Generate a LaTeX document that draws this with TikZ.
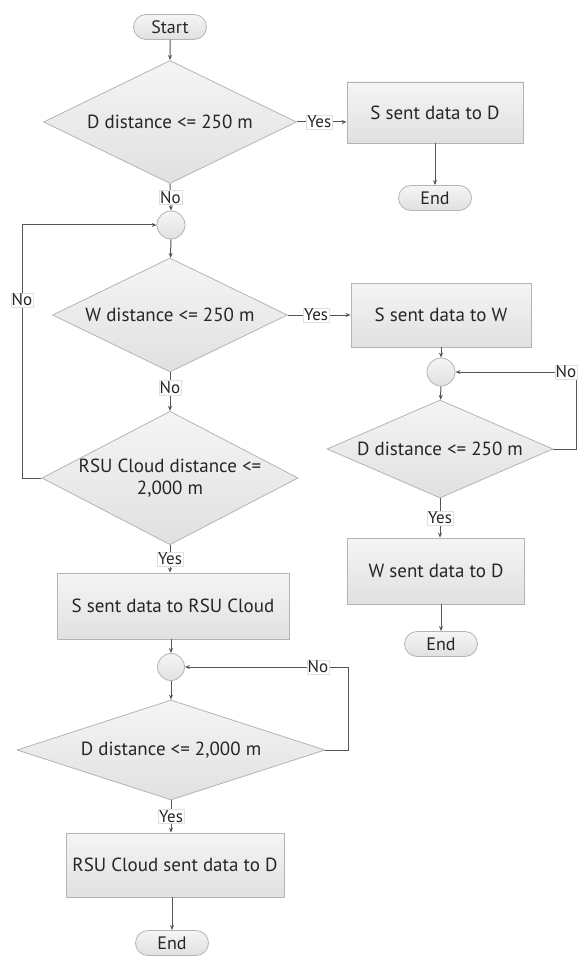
\documentclass[tikz,border=0pt]{standalone}
\usepackage{fontspec}
\setmainfont{PT Sans}
\usetikzlibrary{shapes.geometric,shapes.misc,arrows.meta}
\definecolor{edgecol}{HTML}{555555}
\definecolor{bordercol}{HTML}{B4B4B4}
\tikzset{
  base/.style={draw=bordercol, line width=0.8pt, top color=white!96!black, bottom color=white!88!black, font=\fontsize{19}{22}\selectfont, text=black!85},
  proc/.style={base, rectangle, inner sep=0pt},
  term/.style={base, rounded rectangle, inner sep=0pt, minimum width=73pt, minimum height=25pt, font=\fontsize{18}{21}\selectfont},
  dec/.style={base, diamond, inner sep=0pt, align=center},
  junc/.style={base, circle, inner sep=0pt},
  lbl/.style={fill=white, draw=black!12, line width=0.4pt, inner sep=1pt, font=\fontsize{17}{20}\selectfont, text=black!85},
  arr/.style={draw=edgecol, line width=1pt, -{Stealth[length=5pt,width=4pt]}},
}
\begin{document}
\begin{tikzpicture}[x=1pt,y=-1pt]
\useasboundingbox (0,0) rectangle (583,957);
% left column
\node[term] (start) at (170,27) {Start};
\node[dec, minimum width=253pt, minimum height=123pt, shape aspect=2.06] (d1) at (170,122) {D distance <= 250 m};
\node[proc, minimum width=176pt, minimum height=61pt] (b1) at (435,112.5) {S sent data to D};
\node[term] (e1) at (435,198) {End};
\node[junc, minimum size=28pt] (c1) at (171,225) {};
\node[dec, minimum width=235pt, minimum height=114pt, shape aspect=2.06] (d2) at (170,315) {W distance <= 250 m};
\node[proc, minimum width=180pt, minimum height=64pt] (b2) at (441,315) {S sent data to W};
\node[dec, minimum width=251pt, minimum height=131pt, shape aspect=1.92] (d3) at (170,478) {RSU Cloud distance <=\\2,000 m};
\node[proc, minimum width=232pt, minimum height=66pt] (b3) at (173,606) {S sent data to RSU Cloud};
\node[junc, minimum size=27pt] (c3) at (171,667) {};
\node[dec, minimum width=308pt, minimum height=100pt, shape aspect=3.08] (d4) at (171,750) {D distance <= 2,000 m};
\node[proc, minimum width=218pt, minimum height=64pt] (b4) at (175,865) {RSU Cloud sent data to D};
\node[term] (e3) at (172,943) {End};
% right column
\node[junc, minimum size=28pt] (c2) at (441,372) {};
\node[dec, minimum width=226pt, minimum height=98pt, shape aspect=2.3] (d5) at (440,449) {D distance <= 250 m};
\node[proc, minimum width=177pt, minimum height=66pt] (b5) at (436,571) {W sent data to D};
\node[term] (e2) at (441,644) {End};
% connectors
\draw[arr] (start) -- (d1);
\draw[arr] (d1.east) -- (d1.east -| b1.west) node[lbl, pos=0.45] {Yes};
\draw[arr] (b1.south -| e1) -- (e1.north);
\draw[arr] (d1.south) -- (c1.north) node[lbl, midway] {No};
\draw[arr] (c1) -- (d2);
\draw[arr] (d2.east) -- (d2.east -| b2.west) node[lbl, pos=0.45] {Yes};
\draw[arr] (d2.south) -- (d3.north) node[lbl, pos=0.4] {No};
\coordinate (l1) at (22,478);
\coordinate (l2) at (22,225);
\draw[arr] (d3.west) -- (l1) -- (l2) -- (c1.west);
\node[lbl] (nol) at (22,300) {No};
\draw[arr] (d3.south) -- (d3.south |- b3.north) node[lbl, midway] {Yes};
\draw[arr] (b3.south -| c3) -- (c3.north);
\draw[arr] (c3) -- (d4);
\coordinate (r1) at (348,750);
\coordinate (r2) at (348,667);
\draw[arr] (d4.east) -- (r1) -- (r2) -- (c3.east);
\node[lbl] (nor) at (318,667) {No};
\draw[arr] (d4.south) -- (d4.south |- b4.north) node[lbl, midway] {Yes};
\draw[arr] (b4.south -| e3) -- (e3.north);
\draw[arr] (b2.south -| c2) -- (c2.north);
\draw[arr] (c2) -- (d5);
\coordinate (s1) at (576,449);
\coordinate (s2) at (576,372);
\draw[arr] (d5.east) -- (s1) -- (s2) -- (c2.east);
\node[lbl] (nos) at (566,372) {No};
\draw[arr] (d5.south) -- (d5.south |- b5.north) node[lbl, midway] {Yes};
\draw[arr] (b5.south -| e2) -- (e2.north);
\end{tikzpicture}
\end{document}
